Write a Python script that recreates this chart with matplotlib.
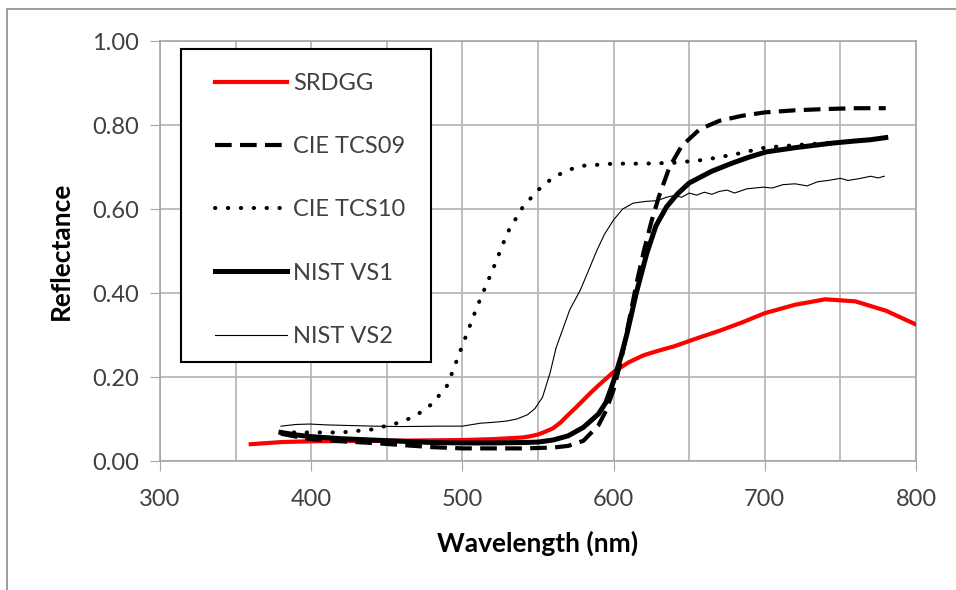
import numpy as np
import matplotlib
matplotlib.use('Agg')
import matplotlib.pyplot as plt
from matplotlib.patches import Rectangle

# SRDGG (red)
wl_srdgg = [360, 380, 400, 450, 500, 520, 540, 545, 550, 555, 560, 565, 570, 575, 580,
            585, 590, 600, 610, 620, 630, 640, 655, 670, 685, 700, 720, 740, 760, 780,
            800]
r_srdgg = [0.040, 0.045, 0.047, 0.048, 0.050, 0.052, 0.056, 0.059, 0.063, 0.070, 0.078,
           0.092, 0.110, 0.127, 0.145, 0.163, 0.180, 0.212, 0.235, 0.252, 0.263, 0.273,
           0.292, 0.310, 0.330, 0.352, 0.372, 0.385, 0.380, 0.358, 0.325]

# CIE TCS09 (dashed)
wl_tcs09 = [380, 390, 400, 420, 440, 460, 480, 500, 520, 540, 560, 570, 580, 590, 595,
            600, 605, 610, 615, 620, 625, 630, 637, 645, 657, 670, 685, 700, 720, 740,
            760, 780]
r_tcs09 = [0.065, 0.058, 0.052, 0.047, 0.043, 0.038, 0.033, 0.030, 0.030, 0.030, 0.032,
           0.036, 0.048, 0.085, 0.120, 0.170, 0.240, 0.330, 0.420, 0.500, 0.570, 0.630,
           0.700, 0.750, 0.790, 0.810, 0.822, 0.830, 0.835, 0.838, 0.840, 0.840]

# CIE TCS10 (dotted)
wl_tcs10 = [380, 400, 420, 440, 450, 460, 470, 480, 490, 500, 510, 520, 530, 540, 550,
            560, 570, 580, 600, 620, 640, 660, 680, 700, 720, 740, 760, 780]
r_tcs10 = [0.068, 0.068, 0.068, 0.075, 0.084, 0.093, 0.110, 0.136, 0.180, 0.275, 0.370,
           0.455, 0.545, 0.605, 0.645, 0.675, 0.693, 0.703, 0.708, 0.708, 0.710, 0.717,
           0.730, 0.746, 0.752, 0.757, 0.762, 0.768]

# NIST VS1 (thick solid)
wl_vs1 = [380, 390, 400, 420, 440, 460, 480, 500, 520, 540, 550, 560, 570, 580, 590,
          595, 600, 605, 609, 615, 622, 628, 635, 642, 650, 665, 679, 690, 701, 720,
          745, 760, 770, 780]
r_vs1 = [0.068, 0.062, 0.058, 0.053, 0.050, 0.047, 0.044, 0.043, 0.043, 0.044, 0.045,
         0.050, 0.060, 0.080, 0.112, 0.140, 0.190, 0.250, 0.305, 0.400, 0.495, 0.560,
         0.605, 0.635, 0.662, 0.690, 0.710, 0.724, 0.736, 0.746, 0.757, 0.762, 0.765,
         0.770]

# NIST VS2 (thin solid)
wl_vs2 = [380, 390, 399, 410, 420, 441, 460, 485, 500, 512, 520, 529, 536, 543, 548,
          553, 558, 562, 567, 571, 578, 583, 589, 594, 600, 606, 613, 621, 629, 635,
          640, 645, 650, 655, 660, 665, 670, 675, 680, 688, 699, 705, 712, 720, 728,
          735, 742, 750, 755, 762, 770, 775, 779]
r_vs2 = [0.083, 0.087, 0.088, 0.086, 0.085, 0.083, 0.082, 0.083, 0.083, 0.090, 0.092,
         0.095, 0.100, 0.110, 0.125, 0.152, 0.210, 0.270, 0.320, 0.360, 0.407, 0.450,
         0.502, 0.540, 0.574, 0.600, 0.614, 0.618, 0.620, 0.628, 0.632, 0.628, 0.638,
         0.633, 0.640, 0.635, 0.642, 0.645, 0.638, 0.648, 0.652, 0.650, 0.658, 0.660,
         0.655, 0.665, 0.668, 0.673, 0.668, 0.672, 0.678, 0.674, 0.678]

plt.rcParams['font.family'] = ['Lato', 'DejaVu Sans']

fig = plt.figure(figsize=(9.56, 5.9), dpi=100)
ax = fig.add_axes([160/956, 129/590, 756/956, 420/590])

# outer chart-area frame
fig.patches.append(Rectangle((7/956, -0.1), 1.2, (581/590) + 0.1, transform=fig.transFigure,
                             fill=False, edgecolor='#8c8c8c', linewidth=1.2))

ax.plot(wl_srdgg, r_srdgg, color='#ff0000', lw=3.0, label='SRDGG', zorder=3)
ax.plot(wl_tcs09, r_tcs09, color='black', lw=3.0, linestyle=(0, (4, 2)),
        label='CIE TCS09', zorder=4)
ax.plot(wl_tcs10, r_tcs10, color='black', lw=2.9, linestyle=(0, (0.1, 3.1)),
        dash_capstyle='round', label='CIE TCS10', zorder=4)
ax.plot(wl_vs1, r_vs1, color='black', lw=3.6, label='NIST VS1', zorder=5)
ax.plot(wl_vs2, r_vs2, color='black', lw=0.8, label='NIST VS2', zorder=5)

ax.set_xlim(300, 800)
ax.set_ylim(0, 1.0)
ax.set_xticks(np.arange(300, 801, 100))
ax.set_xticks(np.arange(350, 800, 100), minor=True)
ax.set_yticks(np.arange(0, 1.01, 0.2))
ax.set_yticklabels([f'{v:.2f}' for v in np.arange(0, 1.01, 0.2)])
ax.grid(True, which='both', color='#b3b3b3', lw=1.2)
ax.set_axisbelow(True)
for s in ax.spines.values():
    s.set_color('#a6a6a6')
    s.set_linewidth(1.2)
ax.tick_params(axis='both', which='major', direction='out', length=7, color='#a6a6a6',
               labelsize=17, labelcolor='#404040', pad=8)
ax.tick_params(axis='x', which='major', pad=13)
ax.tick_params(axis='x', which='minor', length=0)

ax.set_xlabel('Wavelength (nm)', fontsize=19, fontweight='bold', labelpad=15)
ax.set_ylabel('Reflectance', fontsize=19, fontweight='bold', labelpad=14)

# legend box drawn by hand, entries placed inside it
ax.add_patch(Rectangle((21/756, 99/420), 250/756, 313/420, transform=ax.transAxes,
                       facecolor='white', edgecolor='black', lw=1.5, zorder=6))
leg = ax.legend(loc='upper left', bbox_to_anchor=(55/756, 0.924), frameon=False,
                borderaxespad=0, borderpad=0, fontsize=17, labelspacing=1.79,
                handlelength=3.05, handletextpad=0.25)
leg.set_zorder(7)
for t in leg.get_texts():
    t.set_color('#404040')

fig.savefig('out.png', dpi=100)
